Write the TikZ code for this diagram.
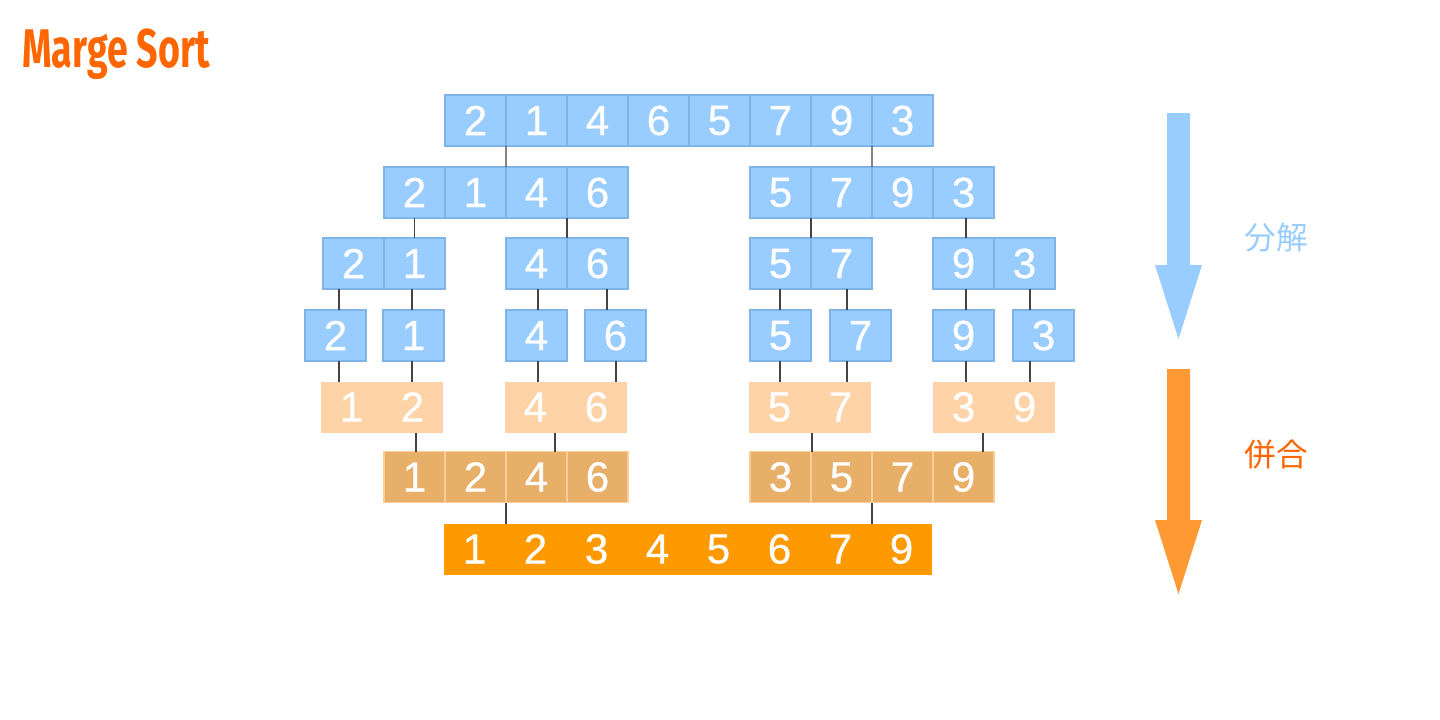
\documentclass[tikz,border=0pt]{standalone}
\usepackage{fontspec}
\setmainfont{Liberation Sans}
\newfontfamily\digitfont{Liberation Sans}[FakeBold=0.6]
\newfontfamily\cjkfont{Noto Sans CJK JP}
\newfontfamily\titlefont{Fira Sans}
\usetikzlibrary{calc}
\definecolor{cellblue}{HTML}{99CCFF}
\definecolor{cellblueborder}{HTML}{7FB4E8}
\definecolor{peach}{HTML}{FFD3A8}
\definecolor{tan}{HTML}{E8AF69}
\definecolor{tanborder}{HTML}{FCCD98}
\definecolor{deeporange}{HTML}{FF9900}
\definecolor{arroworange}{HTML}{FF9933}
\definecolor{titleorange}{HTML}{FF6600}
\definecolor{linkgray}{HTML}{444444}
\begin{document}
\begin{tikzpicture}[x=0.02cm,y=-0.02cm,
  cell/.style={minimum width=1.22cm,minimum height=1.02cm,inner sep=0pt,outer sep=0pt,text=white,font=\digitfont\fontsize{24}{24}\selectfont},
  bluecell/.style={cell,fill=cellblue,draw=cellblueborder,line width=0.8pt},
  peachcell/.style={cell,fill=peach},
  tancell/.style={cell,fill=tan,draw=tanborder,line width=0.8pt},
  finalcell/.style={cell,fill=deeporange},
  link/.style={draw=linkgray,line width=0.8pt}]
\useasboundingbox (0,0) rectangle (1440,720);

% title
\node[anchor=base west,inner sep=0pt,text=titleorange] (title) at (22,67)
  {\scalebox{0.69}[1]{\titlefont\bfseries\fontsize{31}{31}\selectfont Marge Sort}};

% row 1
\foreach \v [count=\i from 0] in {2,1,4,6,5,7,9,3}
  \node[bluecell] (a\i) at ({475.5+61*\i},120.5) {\v};
% row 2
\foreach \v [count=\i from 0] in {2,1,4,6}
  \node[bluecell] (bL\i) at ({414.5+61*\i},192.5) {\v};
\foreach \v [count=\i from 0] in {5,7,9,3}
  \node[bluecell] (bR\i) at ({780.5+61*\i},192.5) {\v};
% row 3
\foreach \g/\x/\p/\q in {A/323/2/1,B/506/4/6,C/750/5/7,D/933/9/3}{
  \node[bluecell] (c\g0) at ({\x+30.5},263.5) {\p};
  \node[bluecell] (c\g1) at ({\x+91.5},263.5) {\q};
}
% row 4
\foreach \x/\v [count=\i from 0] in {305/2,383/1,506/4,585/6,750/5,830/7,933/9,1013/3}
  \node[bluecell] (d\i) at ({\x+30.5},335.5) {\v};
% row 5
\foreach \g/\x/\p/\q in {A/320/1/2,B/504/4/6,C/748/5/7,D/932/3/9}{
  \node[peachcell] (e\g0) at ({\x+31.5},407) {\p};
  \node[peachcell] (e\g1) at ({\x+92.5},407) {\q};
}
% row 6
\foreach \v [count=\i from 0] in {1,2,4,6}
  \node[tancell] (fL\i) at ({414.5+61*\i},477) {\v};
\foreach \v [count=\i from 0] in {3,5,7,9}
  \node[tancell] (fR\i) at ({780.5+61*\i},477) {\v};
% row 7
\foreach \v [count=\i from 0] in {1,2,3,4,5,6,7,9}
  \node[finalcell] (g\i) at ({474.5+61*\i},549) {\v};

% lanes for connectors
\foreach \x in {339,412,416,538,555,607,616,780,812,847,966,983,1030}
  \coordinate (x\x) at (\x,0);

% connectors row 1 -> row 2
\draw[link] (a0.south east) -- (bL2.north west);
\draw[link] (a6.south east) -- (bR2.north west);
% row 2 -> row 3
\draw[link] (bL0.south) -- (cA1.north);
\draw[link] (bL2.south east) -- (cB0.north east);
\draw[link] (bR0.south east) -- (cC0.north east);
\draw[link] (x966 |- bR3.south) -- (x966 |- cD0.north);
% row 3 -> row 4
\draw[link] (x339 |- cA0.south) -- (x339 |- d0.north);
\draw[link] (x412 |- cA1.south) -- (x412 |- d1.north);
\draw[link] (x538 |- cB0.south) -- (x538 |- d2.north);
\draw[link] (x607 |- cB1.south) -- (x607 |- d3.north);
\draw[link] (x780 |- cC0.south) -- (x780 |- d4.north);
\draw[link] (x847 |- cC1.south) -- (x847 |- d5.north);
\draw[link] (x966 |- cD0.south) -- (x966 |- d6.north);
\draw[link] (x1030 |- cD1.south) -- (x1030 |- d7.north);
% row 4 -> row 5
\draw[link] (x339 |- d0.south) -- (x339 |- eA0.north);
\draw[link] (x412 |- d1.south) -- (x412 |- eA1.north);
\draw[link] (x538 |- d2.south) -- (x538 |- eB0.north);
\draw[link] (x616 |- d3.south) -- (x616 |- eB1.north);
\draw[link] (x780 |- d4.south) -- (x780 |- eC0.north);
\draw[link] (x847 |- d5.south) -- (x847 |- eC1.north);
\draw[link] (x966 |- d6.south) -- (x966 |- eD0.north);
\draw[link] (x1030 |- d7.south) -- (x1030 |- eD1.north);
% row 5 -> row 6
\draw[link] (x416 |- eA1.south) -- (x416 |- fL0.north);
\draw[link] (x555 |- eB0.south) -- (x555 |- fL2.north);
\draw[link] (x812 |- eC1.south) -- (x812 |- fR1.north);
\draw[link] (x983 |- eD1.south) -- (x983 |- fR3.north);
% row 6 -> row 7
\draw[link] (fL1.south east) -- (fL1.south east |- g1.north);
\draw[link] (fR1.south east) -- (fR1.south east |- g7.north);

% big arrows
\fill[cellblue] (1167,113) -- (1190,113) -- (1190,265) -- (1202,265) -- (1178.5,339)
  -- (1155,265) -- (1167,265) -- cycle;
\fill[arroworange] (1167,369) -- (1190,369) -- (1190,520) -- (1202,520) -- (1178.5,594)
  -- (1155,520) -- (1167,520) -- cycle;

% labels
\node[text=cellblue,font=\cjkfont\fontsize{18}{18}\selectfont] (split) at (1276,238) {分解};
\node[text=titleorange,font=\cjkfont\fontsize{18}{18}\selectfont] (merge) at (1276,455) {併合};
\end{tikzpicture}
\end{document}
